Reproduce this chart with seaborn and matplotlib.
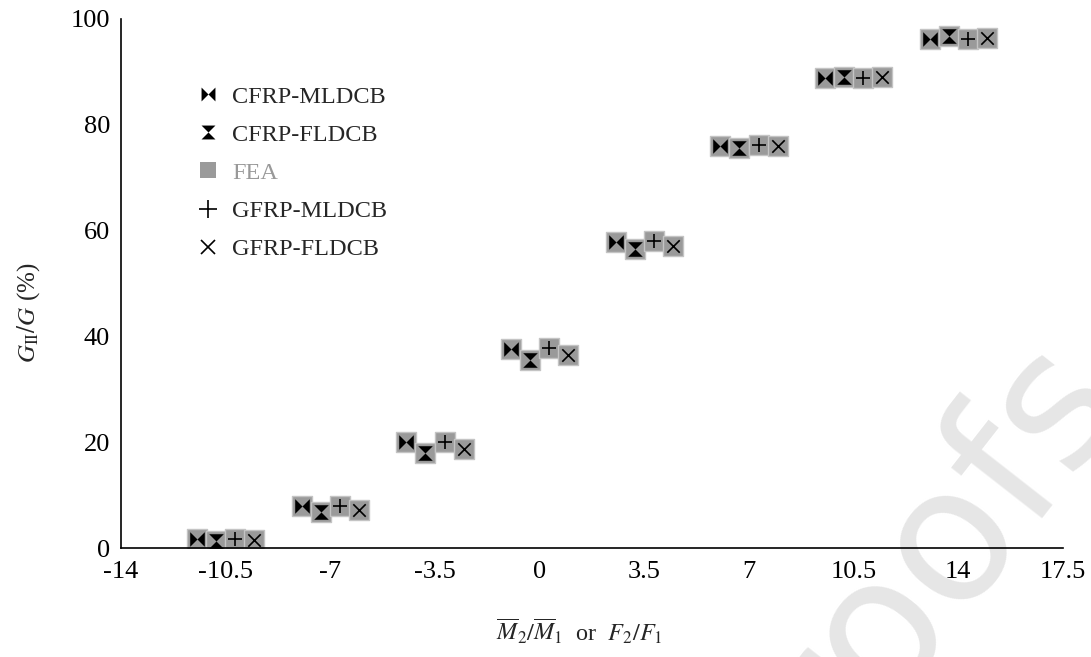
import numpy as np
import pandas as pd
import matplotlib
matplotlib.use("Agg")
import matplotlib.pyplot as plt
from matplotlib.lines import Line2D
import seaborn as sns

# Mode-mixity ratio (M2/M1 or F2/F1) for each test group
ratios = [-10.5, -7, -3.5, 0, 3.5, 7, 10.5, 14]

# G_II/G (%) per specimen type
cfrp_mldcb = [1.7, 7.9, 20.1, 37.7, 57.9, 76.0, 88.8, 96.3]
cfrp_fldcb = [1.3, 6.9, 17.9, 35.5, 56.5, 75.7, 89.1, 96.8]
gfrp_mldcb = [1.7, 8.0, 20.1, 37.9, 58.0, 76.2, 88.9, 96.3]
gfrp_fldcb = [1.5, 7.2, 18.7, 36.5, 57.0, 75.9, 89.0, 96.5]

series_names = ["CFRP-MLDCB", "CFRP-FLDCB", "GFRP-MLDCB", "GFRP-FLDCB"]
xticks = [-14, -10.5, -7, -3.5, 0, 3.5, 7, 10.5, 14, 17.5]
yticks = [0, 20, 40, 60, 80, 100]

sns.set_theme(style="white")
plt.rcParams["font.family"] = ["Liberation Serif", "DejaVu Serif"]
plt.rcParams["mathtext.fontset"] = "stix"

# horizontal offsets so the four specimen types sit side by side in a group
offsets = [-0.96, -0.32, 0.32, 0.96]

# custom markers: horizontal bow-tie and hourglass
bowtie = [(-1, 1), (-1, -1), (0, 0), (1, -1), (1, 1), (0, 0), (-1, 1)]
hourglass = [(-1, 1), (1, 1), (0, 0), (1, -1), (-1, -1), (0, 0), (-1, 1)]

fig = plt.figure(figsize=(10.91, 6.57), dpi=100)

# faint background stamp, running off the lower-right corner
fig.text(0.83, 0.11, "Proofs", rotation=52, rotation_mode="anchor",
         ha="center", va="center", fontsize=135, color="#e6e6e6",
         family="DejaVu Sans", zorder=-5)

ax = fig.add_axes([0.1109, 0.1659, 0.8634, 0.8052])
ax.patch.set_alpha(0)
ax.set_zorder(1)

rows = []
for name, vals, off in zip(series_names,
                           [cfrp_mldcb, cfrp_fldcb, gfrp_mldcb, gfrp_fldcb],
                           offsets):
    for r, v in zip(ratios, vals):
        rows.append({"series": name, "x": r + off, "y": v})
df = pd.DataFrame(rows)

fea_face = "#9a9a9a"
fea_edge = "#c4c4c4"

# FEA results drawn as grey squares behind each experimental point
sns.scatterplot(data=df, x="x", y="y", marker="s", s=210, color=fea_face,
                edgecolor=fea_edge, linewidth=1.0, ax=ax, zorder=2, legend=False)

marker_style = {
    "CFRP-MLDCB": dict(marker=bowtie, s=110, linewidth=0),
    "CFRP-FLDCB": dict(marker=hourglass, s=110, linewidth=0),
    "GFRP-MLDCB": dict(marker="+", s=105, linewidth=1.2),
    "GFRP-FLDCB": dict(marker="x", s=80, linewidth=1.2),
}
for name in series_names:
    sub = df[df["series"] == name]
    sns.scatterplot(data=sub, x="x", y="y", color="black", ax=ax, zorder=3,
                    legend=False, **marker_style[name])

ax.set_xlim(-14, 17.5)
ax.set_ylim(0, 100)
ax.set_xticks(xticks)
ax.set_xticklabels(["%g" % t for t in xticks])
ax.set_yticks(yticks)
ax.tick_params(axis="both", direction="in", length=8, width=1.2,
               labelsize=19, color="black", labelcolor="black")
ax.tick_params(axis="x", pad=9)
ax.tick_params(axis="y", pad=8)
for side in ["top", "right"]:
    ax.spines[side].set_visible(False)
for side in ["left", "bottom"]:
    ax.spines[side].set_color("black")
    ax.spines[side].set_linewidth(1.2)

ax.set_xlabel(r"$\overline{M}_2/\overline{M}_1$  or  $F_2/F_1$", fontsize=17.5)
ax.set_ylabel(r"$G_{\rm II}/G$ (%)", fontsize=18)
ax.xaxis.set_label_coords(0.487, -0.13)
ax.yaxis.set_label_coords(-0.084, 0.444)

handles = [
    Line2D([], [], linestyle="none", marker=bowtie, markersize=10,
           markerfacecolor="black", markeredgewidth=0),
    Line2D([], [], linestyle="none", marker=hourglass, markersize=10,
           markerfacecolor="black", markeredgewidth=0),
    Line2D([], [], linestyle="none", marker="s", markersize=11,
           markerfacecolor=fea_face, markeredgewidth=0),
    Line2D([], [], linestyle="none", marker="+", markersize=13,
           color="black", markeredgewidth=1.2),
    Line2D([], [], linestyle="none", marker="x", markersize=10,
           color="black", markeredgewidth=1.2),
]
labels = ["CFRP-MLDCB", "CFRP-FLDCB", "FEA", "GFRP-MLDCB", "GFRP-FLDCB"]
leg = ax.legend(handles, labels, loc="upper left", bbox_to_anchor=(0.056, 0.915),
                frameon=False, fontsize=17.5, handlelength=1.0,
                handletextpad=0.5, labelspacing=0.66)
leg.get_texts()[2].set_color("#999999")

fig.savefig("out.png", dpi=100)
